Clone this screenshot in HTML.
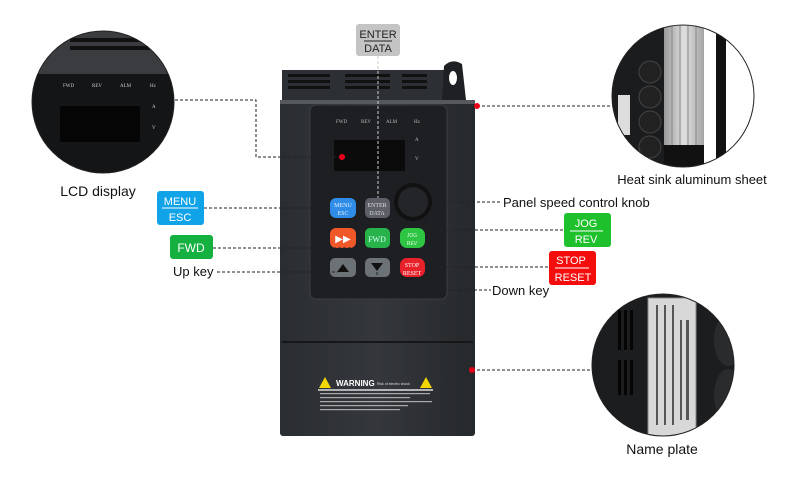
<!DOCTYPE html>
<html><head><meta charset="utf-8"><style>
html,body{margin:0;padding:0;background:#fff;}
svg{display:block;font-family:"Liberation Sans",sans-serif;}
</style></head><body>
<svg width="800" height="480" viewBox="0 0 800 480" xmlns="http://www.w3.org/2000/svg">
<defs>
<linearGradient id="body" x1="0" x2="1"><stop offset="0" stop-color="#2a2d31"/><stop offset="0.5" stop-color="#34373b"/><stop offset="1" stop-color="#26292c"/></linearGradient>
<linearGradient id="hs" x1="0" x2="1"><stop offset="0" stop-color="#9a9a9a"/><stop offset="0.5" stop-color="#e0e0e0"/><stop offset="1" stop-color="#a5a5a5"/></linearGradient>
<clipPath id="c1"><circle cx="103" cy="102" r="71"/></clipPath>
<clipPath id="c2"><circle cx="683" cy="96" r="71"/></clipPath>
<clipPath id="c3"><circle cx="663" cy="365" r="71"/></clipPath>
</defs>

<!-- device top vents and ear -->
<rect x="282" y="70" width="162" height="34" fill="#2c2f33"/>
<g fill="#111">
<rect x="288" y="74" width="42" height="3"/><rect x="288" y="80" width="42" height="3"/><rect x="288" y="86" width="42" height="3"/>
<rect x="345" y="74" width="45" height="3"/><rect x="345" y="80" width="45" height="3"/><rect x="345" y="86" width="45" height="3"/>
<rect x="402" y="74" width="25" height="3"/><rect x="402" y="80" width="25" height="3"/><rect x="402" y="86" width="25" height="3"/>
</g>
<path d="M442 100 L444 66 Q452 58 462 64 L466 100 Z" fill="#1e2023"/>
<ellipse cx="453" cy="78" rx="4" ry="7" fill="#fff"/>
<!-- main body -->
<rect x="280" y="100" width="195" height="336" rx="3" fill="url(#body)"/>
<rect x="280" y="100" width="195" height="4" fill="#55595e"/>
<line x1="282" y1="342" x2="473" y2="342" stroke="#151719" stroke-width="2"/>
<!-- panel -->
<rect x="310" y="105" width="137" height="194" rx="6" fill="#1d1f22" stroke="#3a3d41"/>
<g fill="#bbb" font-size="5" font-family="Liberation Serif,serif">
<text x="336" y="123">FWD</text><text x="361" y="123">REV</text><text x="386" y="123">ALM</text><text x="414" y="123">Hz</text>
<text x="415" y="141">A</text><text x="415" y="160">V</text></g>
<rect x="334" y="140" width="71" height="31" fill="#0b0b0c"/>
<!-- buttons -->
<rect x="330" y="198" width="26" height="20" rx="6" fill="#2f8de8"/>
<text x="343" y="207" font-size="6" fill="#dfeeff" text-anchor="middle" font-family="Liberation Serif,serif">MENU</text>
<text x="343" y="215" font-size="6" fill="#dfeeff" text-anchor="middle" font-family="Liberation Serif,serif">ESC</text>
<rect x="365" y="198" width="25" height="20" rx="5" fill="#5c6066"/>
<text x="377" y="207" font-size="6" fill="#ddd" text-anchor="middle" font-family="Liberation Serif,serif">ENTER</text>
<text x="377" y="215" font-size="6" fill="#ddd" text-anchor="middle" font-family="Liberation Serif,serif">DATA</text>
<circle cx="413" cy="202" r="19" fill="#111"/><circle cx="413" cy="202" r="15" fill="#232528"/>
<rect x="330" y="228" width="26" height="20" rx="6" fill="#f0582a"/>
<text x="343" y="242" font-size="10" fill="#fff" text-anchor="middle">▶▶</text>
<rect x="365" y="228" width="25" height="20" rx="5" fill="#27b34a"/>
<text x="377" y="242" font-size="8" fill="#dff" text-anchor="middle" font-family="Liberation Serif,serif">FWD</text>
<rect x="400" y="228" width="25" height="20" rx="7" fill="#2ec444"/>
<text x="412" y="237" font-size="5" fill="#dfd" text-anchor="middle">JOG</text><text x="412" y="245" font-size="5" fill="#dfd" text-anchor="middle">REV</text>
<rect x="330" y="258" width="26" height="19" rx="5" fill="#6d7277"/>
<path d="M337 272 L343 264 L349 272 Z" fill="#111"/>
<rect x="365" y="258" width="25" height="19" rx="5" fill="#6d7277"/>
<path d="M371 263 L377 271 L383 263 Z" fill="#111"/>
<rect x="400" y="258" width="25" height="19" rx="7" fill="#e8222a"/>
<text x="412" y="267" font-size="6" fill="#fff" text-anchor="middle" font-family="Liberation Serif,serif">STOP</text>
<text x="412" y="275" font-size="6" fill="#fff" text-anchor="middle" font-family="Liberation Serif,serif">RESET</text>
<!-- warning -->
<path d="M319 388 L325 377 L331 388 Z" fill="#f2d600"/><path d="M420 388 L426 377 L432 388 Z" fill="#f2d600"/>
<text x="336" y="386" font-size="8" font-weight="bold" fill="#fff">WARNING</text>
<text x="377" y="385" font-size="3.5" fill="#ddd">Risk of electric shock</text>
<line x1="318" y1="390" x2="433" y2="390" stroke="#fff" stroke-width="1.2"/>
<g fill="#aaa"><rect x="320" y="393" width="110" height="1.2"/><rect x="320" y="397" width="90" height="1.2"/><rect x="320" y="401" width="112" height="1.2"/><rect x="320" y="405" width="88" height="1.2"/><rect x="320" y="409" width="80" height="1.2"/></g>

<!-- LCD zoom circle -->
<g clip-path="url(#c1)">
<rect x="30" y="30" width="150" height="150" fill="#1a1b1d"/>
<rect x="30" y="30" width="150" height="44" fill="#3a3c3f"/>
<rect x="70" y="38" width="110" height="4" fill="#111"/><rect x="70" y="46" width="110" height="4" fill="#111"/>
<rect x="30" y="74" width="150" height="106" fill="#141517"/>
<g fill="#ccc" font-size="5" font-family="Liberation Serif,serif"><text x="63" y="87">FWD</text><text x="92" y="87">REV</text><text x="120" y="87">ALM</text><text x="150" y="87">Hz</text><text x="152" y="108">A</text><text x="152" y="129">V</text></g>
<rect x="60" y="106" width="80" height="36" fill="#050505"/>
</g>
<circle cx="103" cy="102" r="71" fill="none" stroke="#222" stroke-width="1"/>
<text x="98" y="196" font-size="14" text-anchor="middle" fill="#111">LCD display</text>

<!-- heat sink circle -->
<g clip-path="url(#c2)">
<rect x="610" y="20" width="150" height="160" fill="#fff"/>
<rect x="612" y="20" width="70" height="160" fill="#1b1c1e"/>
<rect x="618" y="95" width="12" height="40" fill="#ddd"/>
<g fill="#222" stroke="#444"><circle cx="650" cy="72" r="11"/><circle cx="650" cy="97" r="11"/><circle cx="650" cy="122" r="11"/><circle cx="650" cy="147" r="11"/></g>
<rect x="664" y="25" width="40" height="120" fill="url(#hs)"/>
<g stroke="#888" stroke-width="1"><line x1="672" y1="25" x2="672" y2="145"/><line x1="680" y1="25" x2="680" y2="145"/><line x1="688" y1="25" x2="688" y2="145"/><line x1="696" y1="25" x2="696" y2="145"/></g>
<rect x="664" y="145" width="40" height="30" fill="#111"/>
<rect x="716" y="20" width="10" height="160" fill="#111"/>
</g>
<circle cx="683" cy="96" r="71" fill="none" stroke="#222" stroke-width="1"/>
<text x="692" y="184" font-size="13" text-anchor="middle" fill="#111">Heat sink aluminum sheet</text>

<!-- name plate circle -->
<g clip-path="url(#c3)">
<rect x="590" y="290" width="150" height="150" fill="#1c1d1f"/>
<g fill="#050505"><rect x="618" y="310" width="3" height="40"/><rect x="624" y="310" width="3" height="40"/><rect x="630" y="310" width="3" height="40"/><rect x="618" y="360" width="3" height="35"/><rect x="624" y="360" width="3" height="35"/><rect x="630" y="360" width="3" height="35"/></g>
<rect x="648" y="298" width="48" height="142" fill="#d8d8d8" stroke="#888"/>
<g fill="#555"><rect x="656" y="305" width="2" height="120"/><rect x="664" y="305" width="2" height="120"/><rect x="672" y="305" width="2" height="120"/><rect x="680" y="320" width="2" height="100"/><rect x="686" y="320" width="3" height="100"/></g>
<ellipse cx="728" cy="340" rx="14" ry="26" fill="#2a2b2d"/><ellipse cx="728" cy="395" rx="14" ry="26" fill="#2a2b2d"/>
</g>
<circle cx="663" cy="365" r="71" fill="none" stroke="#222" stroke-width="1"/>
<text x="662" y="454" font-size="14" text-anchor="middle" fill="#111">Name plate</text>

<!-- connectors -->
<g fill="none" stroke="#222" stroke-width="1" stroke-dasharray="3,2">
<polyline points="175,100 256,100 256,157 342,157"/>
<line x1="378" y1="56" x2="378" y2="198" stroke="#ccc"/>
<line x1="204" y1="208" x2="330" y2="208"/>
<line x1="213" y1="248" x2="372" y2="248"/>
<line x1="217" y1="272" x2="338" y2="272"/>
<line x1="477" y1="106" x2="613" y2="106"/>
<line x1="432" y1="202" x2="502" y2="202"/>
<line x1="425" y1="230" x2="564" y2="230"/>
<line x1="425" y1="267" x2="549" y2="267"/>
<polyline points="377,272 377,290 491,290"/>
<line x1="472" y1="370" x2="593" y2="370"/>
</g>
<circle cx="342" cy="157" r="3" fill="#e8001a"/>
<circle cx="477" cy="106" r="3" fill="#e8001a"/>
<circle cx="472" cy="370" r="3" fill="#e8001a"/>

<!-- label boxes -->
<rect x="356" y="24" width="44" height="32" rx="3" fill="#c4c4c4"/>
<text x="378" y="38" font-size="11" text-anchor="middle" fill="#222">ENTER</text>
<line x1="364" y1="41" x2="392" y2="41" stroke="#222"/>
<text x="378" y="52" font-size="11" text-anchor="middle" fill="#222">DATA</text>

<rect x="157" y="191" width="47" height="34" rx="3" fill="#11a3e8"/>
<text x="180" y="205" font-size="11" text-anchor="middle" fill="#fff">MENU</text>
<line x1="162" y1="208" x2="198" y2="208" stroke="#fff"/>
<text x="180" y="221" font-size="11" text-anchor="middle" fill="#fff">ESC</text>

<rect x="170" y="235" width="43" height="24" rx="3" fill="#14b040"/>
<text x="191" y="252" font-size="12" text-anchor="middle" fill="#fff">FWD</text>
<text x="173" y="276" font-size="13" fill="#111">Up key</text>

<text x="503" y="207" font-size="13" fill="#111">Panel speed control knob</text>
<rect x="564" y="213" width="47" height="34" rx="3" fill="#1ec12c"/>
<text x="586" y="227" font-size="11" text-anchor="middle" fill="#fff">JOG</text>
<line x1="570" y1="231" x2="603" y2="231" stroke="#fff"/>
<text x="586" y="243" font-size="11" text-anchor="middle" fill="#fff">REV</text>
<rect x="549" y="251" width="47" height="34" rx="3" fill="#f40d0d"/>
<text x="571" y="264" font-size="11" text-anchor="middle" fill="#fff">STOP</text>
<line x1="555" y1="268" x2="589" y2="268" stroke="#fff"/>
<text x="573" y="281" font-size="11" text-anchor="middle" fill="#fff">RESET</text>
<text x="492" y="295" font-size="13" fill="#111">Down key</text>
</svg>
</body></html>
